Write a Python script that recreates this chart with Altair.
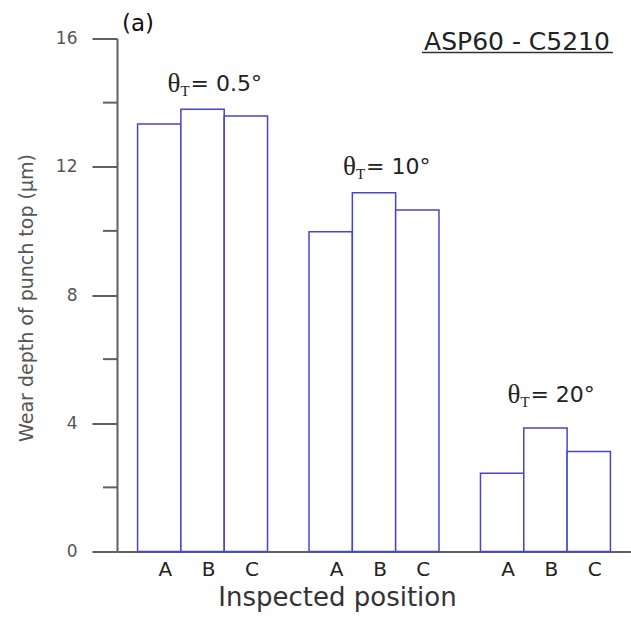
import altair as alt
import numpy as np
import pandas as pd

# ---- data ----
groups = ["0.5", "10", "20"]            # theta_T (degrees)
positions = ["A", "B", "C"]              # inspected position
wear_A = [13.33, 9.97, 2.44]
wear_B = [13.79, 11.19, 3.85]
wear_C = [13.58, 10.65, 3.12]
angle_labels = ["= 0.5°", "= 10°", "= 20°"]
major_ticks = [0, 4, 8, 12, 16]
minor_ticks = [2, 6, 10, 14]
panel_tag = "(a)"
material = "ASP60 - C5210"
y_title = "Wear depth of punch top (µm)"
x_title = "Inspected position"

# ---- tables ----
vals = np.column_stack([wear_A, wear_B, wear_C])
df = pd.DataFrame({
    "group": np.repeat(groups, len(positions)),
    "position": positions * len(groups),
    "value": vals.reshape(-1),
})
ann = pd.DataFrame({"group": groups, "label": angle_labels,
                    "value": vals.max(axis=1)})
minor_df = pd.DataFrame({"value": minor_ticks})

SANS = "DejaVu Sans"
SERIF = "Liberation Serif"
BLUE = "#4646c8"
GREY = "#606060"

W, H = 514, 513

X = alt.X("group:N", sort=groups,
          scale=alt.Scale(paddingInner=0.242, paddingOuter=0.12),
          axis=alt.Axis(labels=False, ticks=False, domainColor=GREY,
                        domainWidth=2, title=x_title, titleFont=SANS,
                        titleFontSize=26, titleFontWeight="normal",
                        titleColor="#333333", titleX=220, titleY=54,
                        titleAlign="center", titleBaseline="alphabetic"))
XO = alt.XOffset("position:N", sort=positions,
                 scale=alt.Scale(paddingInner=0, paddingOuter=0))
Y = alt.Y("value:Q", scale=alt.Scale(domain=[0, 16], nice=False, zero=True),
          axis=alt.Axis(values=major_ticks, tickSize=25, tickWidth=2,
                        tickColor=GREY, domainColor=GREY, domainWidth=2,
                        labelFont=SANS, labelFontSize=17, labelColor="#555555",
                        labelPadding=15, grid=False, title=y_title,
                        titleFont=SANS, titleFontSize=19,
                        titleFontWeight="normal", titleColor="#555555",
                        titleAngle=270, titleX=-85, titleY=259,
                        titleAlign="center", titleBaseline="alphabetic"))

bars = alt.Chart(df).mark_bar(fill="white", stroke=BLUE, strokeWidth=1.5,
                              fillOpacity=1).encode(x=X, xOffset=XO, y=Y)

letters = alt.Chart(df).mark_text(font=SANS, fontSize=20, color="#222222",
                                  baseline="middle", dx=6).encode(
    x=X, xOffset=XO, y=alt.value(H + 18), text="position:N")

minor = alt.Chart(minor_df).mark_rule(color=GREY, strokeWidth=2).encode(
    y=Y, x=alt.value(-14), x2=alt.value(0))

# per-group pixel nudges of the theta annotations (style only)
nudge_dx = [-35, -31, -38]
nudge_dy = [-25, -26, -33]
ann_layers = []
for g, dx, dy in zip(groups, nudge_dx, nudge_dy):
    base = alt.Chart(ann).transform_filter(alt.datum.group == g)
    ann_layers.append(base.mark_text(font=SERIF, fontSize=27, align="left",
                                     baseline="middle", color="#222222",
                                     dx=dx, dy=dy).encode(
        x=X, y=Y, text=alt.value("θ")))
    ann_layers.append(base.mark_text(font=SERIF, fontSize=15, align="left",
                                     baseline="middle", color="#222222",
                                     dx=dx + 13, dy=dy + 7).encode(
        x=X, y=Y, text=alt.value("T")))
    ann_layers.append(base.mark_text(font=SANS, fontSize=22, align="left",
                                     baseline="middle", color="#222222",
                                     dx=dx + 23, dy=dy).encode(
        x=X, y=Y, text="label:N"))

one = pd.DataFrame({"t": [0]})
tag = alt.Chart(one).mark_text(font=SANS, fontSize=23, color="#111111",
                               baseline="middle", align="center").encode(
    x=alt.value(21), y=alt.value(-15), text=alt.value(panel_tag))
mat = alt.Chart(one).mark_text(font=SANS, fontSize=25, color="#222222",
                               baseline="alphabetic", align="center").encode(
    x=alt.value(400), y=alt.value(11), text=alt.value(material))
underline = alt.Chart(one).mark_rule(color="#333333", strokeWidth=1.5).encode(
    x=alt.value(305), x2=alt.value(496), y=alt.value(14))

chart = alt.layer(bars, letters, minor, *ann_layers, tag, mat, underline).properties(
    width=W, height=H,
    autosize=alt.AutoSizeParams(type="none"),
    padding={"left": 117, "top": 38.5, "right": 0, "bottom": 624 - 38.5 - H},
    background="white",
).configure_view(stroke=None)

chart.save("out.html", embed_options={"renderer": "svg", "actions": False})
